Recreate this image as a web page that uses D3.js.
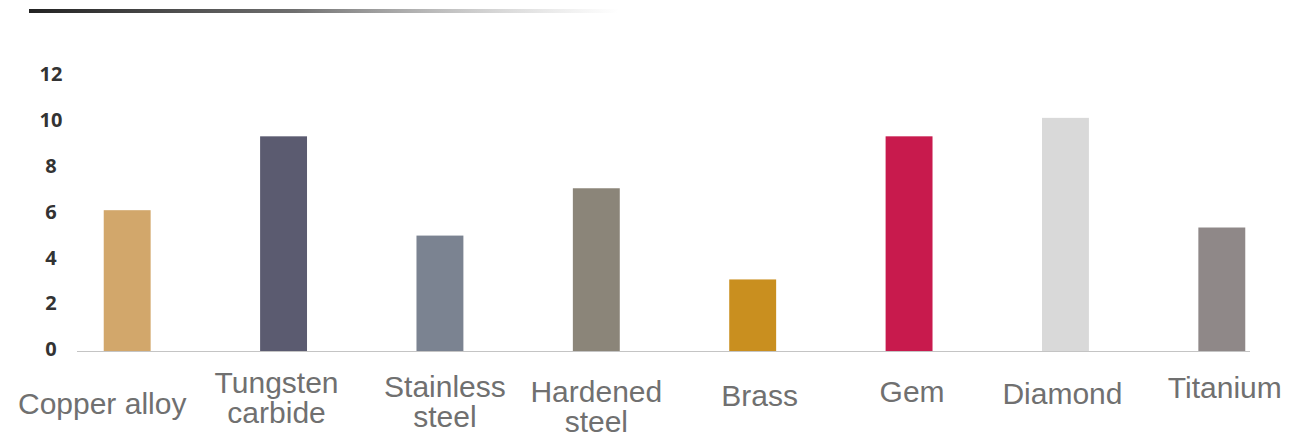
<!DOCTYPE html>
<html>
<head>
<meta charset="utf-8">
<script src="https://cdn.jsdelivr.net/npm/d3@7/dist/d3.min.js"></script>
<style>
  html, body { margin: 0; padding: 0; background: #ffffff; }
  svg { display: block; }
</style>
</head>
<body>
<svg id="chart" width="1302" height="439"></svg>
<script>
// ---- data ----
const categories = ["Copper alloy", "Tungsten carbide", "Stainless steel", "Hardened steel", "Brass", "Gem", "Diamond", "Titanium"];
const labelLines = [["Copper alloy"], ["Tungsten", "carbide"], ["Stainless", "steel"], ["Hardened", "steel"], ["Brass"], ["Gem"], ["Diamond"], ["Titanium"]];
const values = [6.1, 9.3, 5.0, 7.05, 3.1, 9.3, 10.1, 5.35];
const yTicks = [0, 2, 4, 6, 8, 10, 12];

// ---- styles ----
const barColors = ["#d2a76b", "#5b5b70", "#7b8391", "#8b8579", "#c98f1f", "#c81a4d", "#d9d9d9", "#8f8888"];
const labelDx = [-25, -7, 5, 0, 7, 3, -3, 3];
const labelBaseline = [414, 393, 397, 402, 406, 402, 404, 398];
const lineGap = 30;

const svg = d3.select("#chart");

// top gradient rule
const defs = svg.append("defs");
const grad = defs.append("linearGradient").attr("id", "topRule").attr("x1", "0%").attr("x2", "100%");
grad.append("stop").attr("offset", "0%").attr("stop-color", "#222").attr("stop-opacity", 1);
grad.append("stop").attr("offset", "45%").attr("stop-color", "#555").attr("stop-opacity", 0.85);
grad.append("stop").attr("offset", "100%").attr("stop-color", "#999").attr("stop-opacity", 0);
svg.append("rect").attr("x", 29).attr("y", 9).attr("width", 590).attr("height", 4).attr("fill", "url(#topRule)");

const x = d3.scaleBand().domain(categories).range([49, 1300]).paddingInner(0.7).paddingOuter(0.35);
const y = d3.scaleLinear().domain([0, 12]).range([351, 74]);

// baseline
svg.append("line")
  .attr("x1", 77).attr("x2", 1250)
  .attr("y1", y(0) + 0.5).attr("y2", y(0) + 0.5)
  .attr("stroke", "#c4c4c4").attr("stroke-width", 1.2);

// y tick labels
const yAxis = d3.axisLeft(y).tickValues(yTicks).tickSize(0).tickPadding(0);
const gy = svg.append("g").attr("transform", "translate(51,0)").call(yAxis);
gy.select(".domain").remove();
gy.selectAll("text")
  .attr("text-anchor", "middle")
  .attr("dy", "0.36em")
  .attr("y", d => -2 * (1 - d / 12) - 0.5)
  .attr("fill", "#333")
  .style("font-family", "'Open Sans', 'Noto Sans', sans-serif")
  .style("font-weight", "700")
  .style("font-size", "20px");

// bars
svg.append("g").selectAll("rect")
  .data(categories)
  .join("rect")
  .attr("x", d => x(d))
  .attr("width", x.bandwidth())
  .attr("y", (d, i) => y(values[i]))
  .attr("height", (d, i) => y(0) - y(values[i]))
  .attr("fill", (d, i) => barColors[i]);

// category labels (one text element per line)
const lg = svg.append("g")
  .style("font-family", "'Liberation Sans', Arial, sans-serif")
  .style("font-size", "30px")
  .attr("fill", "#707070")
  .attr("text-anchor", "middle");

categories.forEach((c, i) => {
  labelLines[i].forEach((line, j) => {
    lg.append("text")
      .attr("x", x(c) + x.bandwidth() / 2 + labelDx[i])
      .attr("y", labelBaseline[i] + j * lineGap)
      .text(line);
  });
});
</script>
</body>
</html>
